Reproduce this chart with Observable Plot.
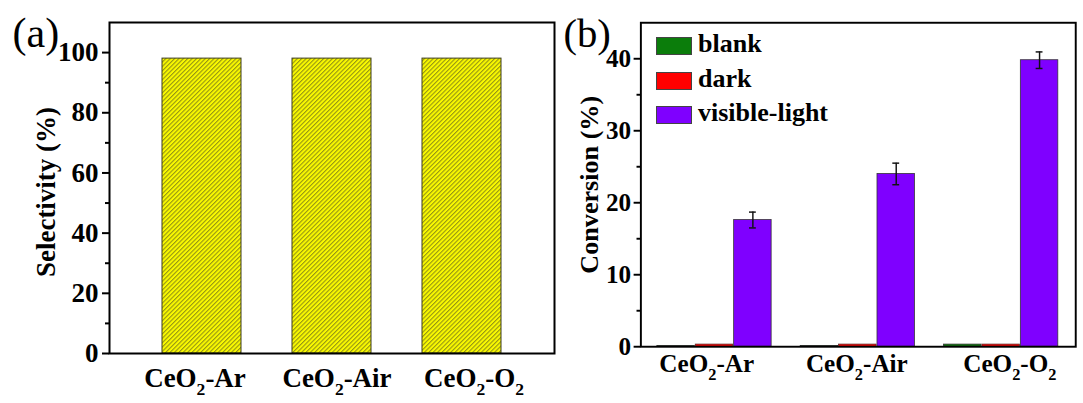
<!DOCTYPE html>
<html>
<head>
<meta charset="utf-8">
<script src="https://cdn.jsdelivr.net/npm/d3@7"></script>
<script src="https://cdn.jsdelivr.net/npm/@observablehq/plot@0.6"></script>
<style>
  html, body { margin: 0; padding: 0; background: #fff; }
  #wrap { position: relative; width: 1083px; height: 403px; overflow: hidden; background: #fff; }
  #panelA { position: absolute; left: 0; top: 0; }
  #panelB { position: absolute; left: 560px; top: 0; }
  #legend { position: absolute; left: 656px; top: 37px; font-family: 'Liberation Serif', 'Times New Roman', serif; font-weight: bold; font-size: 26px; color: #000; }
  .row { position: absolute; left: 0; display: flex; align-items: center; white-space: nowrap; }
  .sw { width: 34px; height: 16px; border: 1px solid #444; margin-right: 6px; }
  .lab { line-height: 18px; position: relative; top: -2px; }
</style>
</head>
<body>
<div id="wrap">
  <div id="panelA"></div>
  <div id="panelB"></div>
  <div id="legend"></div>
</div>
<script>
// ---------- data ----------
const groups = ["CeO2-Ar", "CeO2-Air", "CeO2-O2"];
const selectivity = [98, 98, 98];
const series = ["blank", "dark", "visible-light"];
const seriesColors = ["#0b7d0b", "#ff0000", "#7f00ff"];
const blank = [0.1, 0.1, 0.3];
const dark = [0.3, 0.3, 0.3];
const visible = [17.6, 24.0, 39.8];
const visibleErr = [1.1, 1.5, 1.15];
const ticksA = [0, 20, 40, 60, 80, 100];
const minorA = [10, 30, 50, 70, 90];
const ticksB = [0, 10, 20, 30, 40];
const minorB = [5, 15, 25, 35];
const yLabelA = "Selectivity (%)";
const yLabelB = "Conversion (%)";
const panelA = "(a)";
const panelB = "(b)";

const dataA = groups.map((g, i) => ({group: g, value: selectivity[i]}));
const dataB = groups.map((g, i) => ({
  group: g, blank: blank[i], dark: dark[i], visible: visible[i],
  lo: visible[i] - visibleErr[i], hi: visible[i] + visibleErr[i]
}));

const font = "'Liberation Serif', 'Times New Roman', serif";

function subscriptTicks(svg, shifts, sub) {
  d3.select(svg).selectAll('g[aria-label="x-axis tick label"] text').each(function (d, i) {
    const t = this.textContent;
    const el = d3.select(this);
    el.text(null);
    if (shifts) el.attr("transform", (el.attr("transform") || "") + ` translate(${shifts[i] || 0},0)`);
    const parts = t.split(/(\d)/).filter(s => s.length);
    let shifted = false;
    parts.forEach(p => {
      if (/^\d$/.test(p)) {
        el.append("tspan").attr("font-size", "65%").attr("dy", sub).text(p);
        shifted = true;
      } else {
        const ts = el.append("tspan").text(p);
        if (shifted) { ts.attr("dy", -sub); shifted = false; }
      }
    });
  });
}

// ---------- panel (a) ----------
const plotA = Plot.plot({
  width: 560, height: 403,
  marginLeft: 109, marginRight: 6, marginTop: 22, marginBottom: 50,
  style: {fontFamily: font, fontWeight: "bold", fontSize: "26px", color: "#000", background: "transparent", overflow: "visible"},
  x: {domain: groups, paddingInner: 0.395, paddingOuter: 0.40, label: null},
  y: {domain: [0, 110], label: null},
  marks: [
    Plot.barY(dataA, {x: "group", y: "value", fill: "url(#hatchA)", stroke: "#3d3d1f", strokeWidth: 1}),
    Plot.frame({stroke: "#000", strokeWidth: 2}),
    Plot.axisY(ticksA, {tickSize: 7, tickPadding: 4, fontSize: 27, strokeWidth: 2, label: null}),
    Plot.axisY(minorA, {tickSize: 4, tickFormat: () => "", strokeWidth: 2, label: null}),
    Plot.axisX({tickSize: 0, tickPadding: 14, fontSize: 27, label: null}),
    Plot.text([yLabelA], {text: d => d, frameAnchor: "left", textAnchor: "middle", lineAnchor: "middle", dx: -63, dy: 4, rotate: -90, fontSize: 27, fontWeight: "bold"}),
    Plot.text([panelA], {text: d => d, frameAnchor: "top-left", textAnchor: "start", lineAnchor: "top", dx: -97, dy: -5, fontSize: 42, fontWeight: "normal"})
  ]
});
d3.select(plotA).insert("defs", ":first-child").html(
  `<pattern id="hatchA" width="3.1" height="3.1" patternUnits="userSpaceOnUse" patternTransform="rotate(45)">
     <rect width="3.1" height="3.1" fill="#fafa00"/>
     <line x1="0.6" y1="0" x2="0.6" y2="3.1" stroke="#7d7d18" stroke-width="0.9"/>
   </pattern>`);
subscriptTicks(plotA, [-7, 5, 12], 8);
document.getElementById("panelA").appendChild(plotA);

// ---------- panel (b) ----------
const wB = 540, mlB = 83, mrB = 8;
const pInB = 0.2, pOutB = 0.11;
const stepB = (wB - mlB - mrB) / (groups.length - pInB + 2 * pOutB);
const bwB = stepB * (1 - pInB);
const third = bwB / 3;
const capW = 8;

const plotB = Plot.plot({
  width: wB, height: 403,
  marginLeft: mlB, marginRight: mrB, marginTop: 23, marginBottom: 45.5,
  style: {fontFamily: font, fontWeight: "bold", fontSize: "26px", color: "#000", background: "transparent", overflow: "visible"},
  x: {domain: groups, paddingInner: pInB, paddingOuter: pOutB, label: null},
  y: {domain: [0, 45], label: null},
  marks: [
    Plot.barY(dataB, {x: "group", y: "blank", fill: seriesColors[0], stroke: "#333", strokeWidth: 0.8, insetRight: 2 * third}),
    Plot.barY(dataB, {x: "group", y: "dark", fill: seriesColors[1], stroke: "#5a2a2a", strokeWidth: 0.8, insetLeft: third, insetRight: third}),
    Plot.barY(dataB, {x: "group", y: "visible", fill: seriesColors[2], stroke: "#333", strokeWidth: 0.8, insetLeft: 2 * third}),
    Plot.ruleX(dataB, {x: "group", y1: "lo", y2: "hi", dx: third, stroke: "#111", strokeWidth: 1.5}),
    Plot.tickY(dataB, {x: "group", y: "hi", stroke: "#111", strokeWidth: 1.5, insetLeft: 2 * third + (third - capW) / 2, insetRight: (third - capW) / 2}),
    Plot.tickY(dataB, {x: "group", y: "lo", stroke: "#111", strokeWidth: 1.5, insetLeft: 2 * third + (third - capW) / 2, insetRight: (third - capW) / 2}),
    Plot.frame({stroke: "#000", strokeWidth: 2}),
    Plot.axisY(ticksB, {tickSize: 7, tickPadding: 3, fontSize: 26, strokeWidth: 2, label: null}),
    Plot.axisY(minorB, {tickSize: 4, tickFormat: () => "", strokeWidth: 2, label: null}),
    Plot.axisX({tickSize: 0, tickPadding: 8, fontSize: 26, label: null}),
    Plot.text([yLabelB], {text: d => d, frameAnchor: "left", textAnchor: "middle", lineAnchor: "middle", dx: -53, rotate: -90, fontSize: 27, fontWeight: "bold"}),
    Plot.text([panelB], {text: d => d, frameAnchor: "top-left", textAnchor: "start", lineAnchor: "top", dx: -80, dy: -5, fontSize: 42, fontWeight: "normal"})
  ]
});
subscriptTicks(plotB, [-8, -1, 9], 8);
document.getElementById("panelB").appendChild(plotB);

// ---------- legend ----------
const legend = d3.select("#legend");
series.forEach((s, i) => {
  const row = legend.append("div").attr("class", "row").style("top", (i * 34.5) + "px");
  row.append("div").attr("class", "sw").style("background", seriesColors[i]);
  row.append("span").attr("class", "lab").text(s);
});
</script>
</body>
</html>
